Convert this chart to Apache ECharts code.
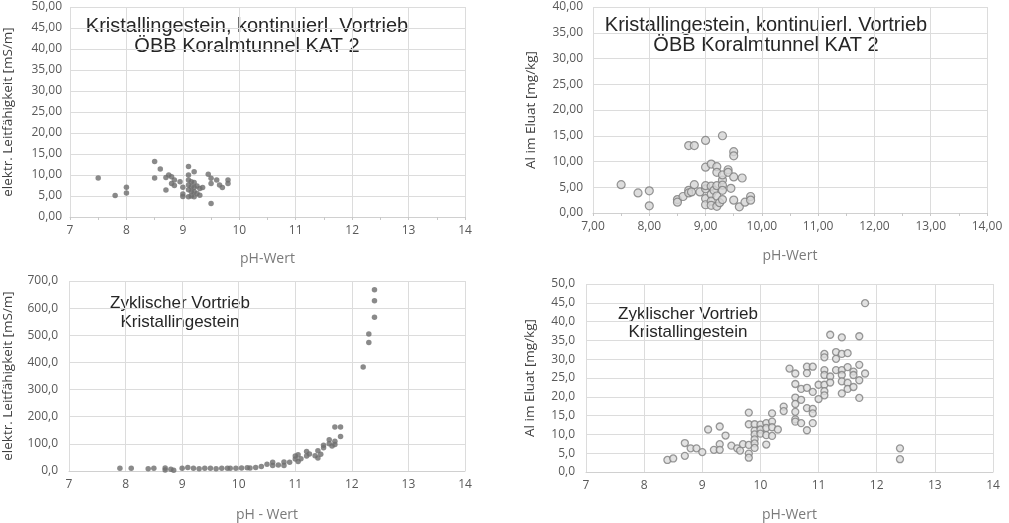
<!DOCTYPE html>
<html><head><meta charset="utf-8">
<script src="https://cdn.jsdelivr.net/npm/echarts@6/dist/echarts.min.js"></script>
<style>html,body{margin:0;padding:0;background:#fff}#c{width:1009px;height:523px}</style>
</head><body><div id="c"></div><script>
// Top-left: conductivity vs pH, continuous drive
const contCond = [[7.5,9.3],[7.8,5.1],[8.0,7.1],[8.0,5.7],[8.5,13.2],[8.5,9.3],[8.6,11.4],[8.7,6.4],[8.7,9.4],[8.75,10.0],[8.8,9.6],[8.8,8.0],[8.85,8.8],[8.85,7.5],[8.95,8.4],[9.0,7.1],[9.0,5.5],[9.0,4.9],[9.1,12.0],[9.1,10.0],[9.1,8.8],[9.1,7.6],[9.1,6.5],[9.1,4.8],[9.15,8.4],[9.15,7.2],[9.15,6.0],[9.15,5.0],[9.2,10.8],[9.2,8.2],[9.2,7.0],[9.2,6.0],[9.2,4.8],[9.25,7.4],[9.25,5.6],[9.3,6.8],[9.3,5.2],[9.35,7.0],[9.45,10.2],[9.5,9.2],[9.5,8.0],[9.5,3.2],[9.6,8.8],[9.65,7.6],[9.7,7.0],[9.8,8.8],[9.8,8.0]];
// Top-right: Al in eluate vs pH, continuous drive
const contAl = [[7.5,5.5],[7.8,3.9],[8.0,4.3],[8.0,1.4],[8.5,2.6],[8.5,2.1],[8.6,3.2],[8.7,4.4],[8.7,3.9],[8.7,13.1],[8.8,13.1],[8.75,4.1],[8.8,5.5],[8.9,4.1],[9.0,8.9],[9.0,14.1],[9.0,4.7],[9.0,5.3],[9.0,2.8],[9.0,1.6],[9.1,9.5],[9.1,5.2],[9.1,3.6],[9.1,2.3],[9.1,1.5],[9.15,4.4],[9.2,9.0],[9.2,7.9],[9.2,5.3],[9.2,3.3],[9.2,1.3],[9.25,2.0],[9.3,15.0],[9.3,6.4],[9.3,5.4],[9.3,4.4],[9.3,2.6],[9.3,7.4],[9.4,8.4],[9.4,7.9],[9.45,4.8],[9.5,11.9],[9.5,11.1],[9.5,7.0],[9.5,2.5],[9.6,1.2],[9.65,6.8],[9.7,2.1],[9.8,3.2],[9.8,2.5]];
// Bottom-left: conductivity vs pH, cyclic drive
const cycCond = [[7.9,10],[8.1,10],[8.4,8],[8.5,10],[8.7,11],[8.7,4],[8.8,6],[8.85,3],[9.0,10],[9.1,13],[9.2,10],[9.3,8],[9.4,10],[9.5,10],[9.6,8],[9.7,10],[9.8,10],[9.85,10],[9.95,10],[10.05,11],[10.15,12],[10.2,11],[10.3,13],[10.4,17],[10.5,25],[10.6,32],[10.6,20],[10.7,22],[10.8,33],[10.8,20],[10.9,32],[11.0,44],[11.0,55],[11.05,35],[11.05,60],[11.1,45],[11.2,72],[11.2,55],[11.25,63],[11.35,56],[11.4,75],[11.4,48],[11.45,62],[11.5,95],[11.5,86],[11.6,115],[11.6,100],[11.65,92],[11.7,110],[11.7,98],[11.7,162],[11.8,162],[11.8,127],[12.2,383],[12.3,473],[12.3,505],[12.4,566],[12.4,627],[12.4,668]];
// Bottom-right: Al in eluate vs pH, cyclic drive
const cycAl = [[8.4,3.2],[8.5,3.6],[8.7,7.7],[8.7,4.3],[8.8,6.3],[8.9,6.3],[9.0,5.3],[9.1,11.3],[9.2,5.9],[9.3,12.1],[9.3,7.4],[9.3,5.9],[9.4,9.7],[9.5,7.0],[9.6,6.3],[9.65,5.7],[9.7,7.4],[9.8,7.2],[9.8,15.8],[9.8,12.7],[9.8,4.9],[9.8,3.8],[9.9,12.7],[9.9,11.0],[9.9,10.0],[9.9,8.7],[9.9,7.6],[9.9,6.4],[10.0,12.6],[10.0,11.3],[10.0,10.2],[10.1,13.0],[10.1,11.7],[10.1,9.8],[10.1,7.3],[10.2,13.4],[10.2,15.6],[10.2,11.9],[10.2,9.6],[10.3,11.3],[10.4,17.4],[10.4,16.2],[10.5,27.5],[10.6,26.2],[10.6,23.4],[10.6,19.8],[10.6,18.1],[10.6,16.0],[10.6,14.0],[10.6,13.4],[10.7,19.2],[10.7,22.1],[10.7,13.0],[10.8,28.0],[10.8,26.3],[10.8,22.4],[10.8,17.0],[10.8,11.1],[10.9,28.0],[10.9,21.3],[10.9,16.8],[10.9,15.6],[10.9,13.0],[11.0,23.2],[11.0,19.4],[11.1,31.4],[11.1,30.5],[11.1,27.1],[11.1,25.8],[11.1,23.2],[11.1,21.5],[11.1,20.4],[11.2,36.5],[11.2,25.4],[11.2,23.8],[11.3,31.9],[11.3,30.1],[11.3,27.1],[11.4,35.8],[11.4,31.4],[11.4,27.1],[11.4,25.8],[11.4,24.1],[11.4,20.9],[11.5,31.6],[11.5,27.9],[11.5,23.7],[11.5,22.1],[11.6,26.7],[11.6,25.8],[11.6,22.6],[11.7,36.1],[11.7,28.5],[11.7,24.4],[11.7,19.7],[11.8,44.9],[11.8,26.2],[12.4,6.3],[12.4,3.4]];

const xTitles = ['pH-Wert','pH-Wert','pH - Wert','pH-Wert'];
const yTitles = ['elektr. Leitfähigkeit [mS/m]','Al im Eluat [mg/kg]','elektr. Leitfähigkeit [mS/m]','Al im Eluat [mg/kg]'];
const yMax = [50, 40, 700, 50];
const yStep = [5, 5, 100, 5];
const yDecimals = [2, 2, 1, 1];
const xDecimals = [0, 2, 0, 0];
const notes = [
  'Kristallingestein, kontinuierl. Vortrieb\nÖBB Koralmtunnel KAT 2',
  'Kristallingestein, kontinuierl. Vortrieb\nÖBB Koralmtunnel KAT 2',
  'Zyklischer Vortrieb\nKristallingestein',
  'Zyklischer Vortrieb\nKristallingestein'
];

const FONT = '"Open Sans", "DejaVu Sans", sans-serif';
const grids = [
  {left:68, right:544, top:7, bottom:306},
  {left:593, right:22, top:7, bottom:310},
  {left:68, right:544, top:281, bottom:44},
  {left:586, right:16, top:284, bottom:44}
];
const yLabelMargin = [8, 10, 11, 11];
const yNameGap = [55, 55, 54, 49];
const xNameGap = [35, 36, 37, 36];
const fmt = (v, d) => v.toFixed(d).replace('.', ',');

const xAxes = grids.map((g, i) => ({
  type:'value', gridIndex:i, min:7, max:14, interval:1,
  name:xTitles[i], nameLocation:'middle', nameGap:xNameGap[i],
  nameTextStyle:{color:'#7a7a7a', fontSize:14, fontFamily:FONT},
  axisLine:{show:true, lineStyle:{color:'#d0d0d0'}},
  axisTick:{show:i<2, length:3, lineStyle:{color:'#c8c8c8'}},
  minorTick:{show:i<2, splitNumber:2, length:3, lineStyle:{color:'#c8c8c8'}},
  splitLine:{show:true, lineStyle:{color:'#dcdcdc'}},
  axisLabel:{color:'#595959', fontSize:12, fontFamily:FONT, margin:8,
    formatter:v => fmt(v, xDecimals[i])}
}));
const yAxes = grids.map((g, i) => ({
  type:'value', gridIndex:i, min:0, max:yMax[i], interval:yStep[i],
  name:yTitles[i], nameLocation:'middle', nameGap:yNameGap[i],
  nameTextStyle:{color:'#404040', fontSize:13.5, fontFamily:FONT},
  axisLine:{show:false}, axisTick:{show:false},
  splitLine:{show:true, lineStyle:{color:'#dcdcdc'}},
  axisLabel:{color:'#595959', fontSize:12, fontFamily:FONT, margin:yLabelMargin[i],
    formatter:v => fmt(v, yDecimals[i])}
}));

const darkDot = {color:'#6d6d6d'};
const lightDot = {color:'#d4d4d4', borderColor:'#7c7c7c', borderWidth:1.2};
const series = [
  {type:'scatter', xAxisIndex:0, yAxisIndex:0, data:contCond, symbolSize:5.5, itemStyle:darkDot},
  {type:'scatter', xAxisIndex:1, yAxisIndex:1, data:contAl, symbolSize:8, itemStyle:lightDot},
  {type:'scatter', xAxisIndex:2, yAxisIndex:2, data:cycCond, symbolSize:5.5, itemStyle:darkDot},
  {type:'scatter', xAxisIndex:3, yAxisIndex:3, data:cycAl, symbolSize:7, itemStyle:{color:'#dcdcdc', borderColor:'#808080', borderWidth:1.3}}
].map(s => Object.assign(s, {animation:false, silent:true}));

const notePos = [[247, 16, 20, 20], [766, 15, 20, 20], [180, 294, 17, 19], [688, 305, 17, 18]];
const graphic = notes.map((t, i) => ({
  type:'text', x:notePos[i][0], y:notePos[i][1], silent:true,
  style:{text:t, fill:'#262626', font:notePos[i][2] + 'px "Liberation Sans", Arial, sans-serif',
    align:'center', verticalAlign:'top', lineHeight:notePos[i][3]}
}));

const chart = echarts.init(document.getElementById('c'), null, {renderer:'canvas'});
chart.setOption({
  animation:false, backgroundColor:'#ffffff',
  grid:grids, xAxis:xAxes, yAxis:yAxes, series:series, graphic:graphic
});
</script></body></html>
